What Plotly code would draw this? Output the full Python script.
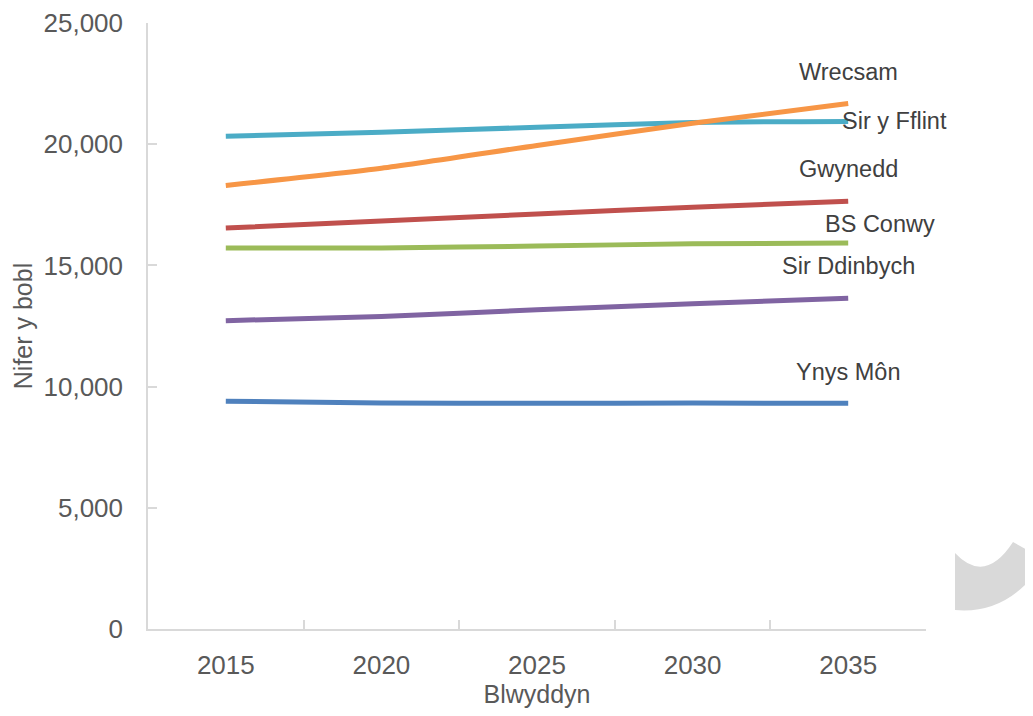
import plotly.graph_objects as go

years = ['2015', '2020', '2025', '2030', '2035']

ynys_mon = [9400, 9320, 9310, 9320, 9310]
gwynedd = [16540, 16830, 17120, 17400, 17650]
bs_conwy = [15720, 15720, 15800, 15890, 15920]
sir_ddinbych = [12720, 12890, 13170, 13420, 13640]
sir_y_fflint = [20330, 20490, 20700, 20900, 20940]
wrecsam = [18300, 19010, 19950, 20860, 21680]

# name, values, colour, label offset (x px, y px)
series = [
    ('Ynys Môn', ynys_mon, '#4F81BD', (0, 31)),
    ('Gwynedd', gwynedd, '#C0504D', (0, 32)),
    ('BS Conwy', bs_conwy, '#9BBB59', (32, 19)),
    ('Sir Ddinbych', sir_ddinbych, '#8064A2', (0, 32)),
    ('Sir y Fflint', sir_y_fflint, '#4BACC6', (46, 0)),
    ('Wrecsam', wrecsam, '#F79646', (0, 31)),
]

FONT = 'Liberation Sans, Arial, sans-serif'
GREY_TXT = '#595959'
AXIS = '#D9D9D9'

fig = go.Figure()
annotations = []
for name, vals, col, (dx, dy) in series:
    fig.add_trace(go.Scatter(
        x=years, y=vals, name=name, mode='lines',
        line=dict(color=col, width=5, shape='spline', smoothing=0.6),
    ))
    # category axis: annotation x is the index of the last year
    annotations.append(dict(
        x=len(years) - 1, y=vals[-1], xref='x', yref='y', text=name,
        showarrow=False, xshift=dx, yshift=dy,
        font=dict(family=FONT, size=23.5, color='#404040'),
    ))

# grey decoration in the lower right corner (page furniture)
def px(x):
    return (x - 148) / 778

def py(y):
    return (629 - y) / 606

deco = (f'M {px(955)},{py(553)} '
        f'Q {px(985)},{py(585)} {px(1013)},{py(542)} '
        f'L {px(1045)},{py(560)} '
        f'Q {px(1010)},{py(615)} {px(955)},{py(610)} Z')

# the page body adds 8px, so margins are 8px smaller on the left/top
fig.update_layout(
    width=1033, height=716,
    margin=dict(l=140, r=115, t=15, b=95),
    paper_bgcolor='white', plot_bgcolor='white',
    showlegend=False,
    font=dict(family=FONT, size=26, color=GREY_TXT),
    annotations=annotations,
    shapes=[dict(type='path', path=deco, xref='paper', yref='paper',
                 fillcolor='#D9D9D9', line=dict(width=0), layer='above')],
)
fig.update_xaxes(
    type='category', range=[-0.5, 4.5], automargin=False,
    showline=True, linecolor=AXIS, linewidth=1.5,
    ticks='inside', tickson='boundaries', ticklen=9, tickcolor=AXIS, tickwidth=1.5,
    showgrid=False, zeroline=False,
    ticklabelstandoff=12,
    tickfont=dict(size=26, color=GREY_TXT),
    title=dict(text='Blwyddyn', font=dict(size=25, color=GREY_TXT), standoff=6),
)
fig.update_yaxes(
    range=[0, 25000], dtick=5000, tickformat=',', automargin=False,
    ticklabeloverflow='allow',
    showline=True, linecolor=AXIS, linewidth=1.5,
    ticks='inside', ticklen=9, tickcolor=AXIS, tickwidth=1.5,
    showgrid=False, zeroline=False,
    ticklabelstandoff=18,
    tickfont=dict(size=26, color=GREY_TXT),
    title=dict(text='Nifer y bobl', font=dict(size=25, color=GREY_TXT), standoff=4),
)

fig.write_html('out.html')
